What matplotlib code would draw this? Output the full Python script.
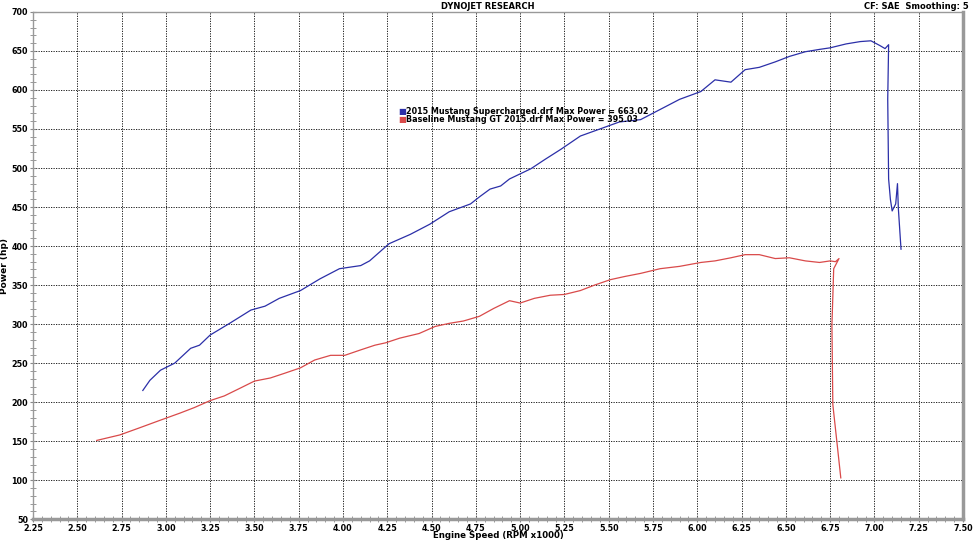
import numpy as np
import matplotlib.pyplot as plt
from matplotlib.ticker import MultipleLocator, FormatStrFormatter

# Supercharged run (blue)
sc_rpm = [2.87, 2.91, 2.97, 3.05, 3.14, 3.19, 3.25, 3.36, 3.48, 3.56, 3.64, 3.76,
          3.87, 3.98, 4.10, 4.15, 4.26, 4.38, 4.49, 4.60, 4.72, 4.77, 4.83, 4.89,
          4.94, 5.06, 5.14, 5.23, 5.34, 5.45, 5.56, 5.68, 5.79, 5.90, 6.02, 6.10,
          6.19, 6.27, 6.35, 6.44, 6.52, 6.61, 6.69, 6.75, 6.84, 6.92, 6.98, 7.03,
          7.06, 7.08, 7.075, 7.08, 7.09, 7.10, 7.12, 7.13, 7.135, 7.15]
sc_hp = [215, 228, 241, 250, 269, 273, 286, 301, 318, 323, 333, 343,
         358, 371, 375, 381, 403, 415, 428, 444, 454, 463, 473, 477,
         486, 499, 511, 524, 541, 550, 559, 562, 575, 588, 598, 613,
         610, 626, 629, 636, 643, 649, 652, 654, 659, 662, 663, 657,
         653, 658, 588, 486, 460, 445, 454, 480, 448, 396]

# Baseline run (red)
base_rpm = [2.61, 2.74, 2.85, 2.97, 3.08, 3.16, 3.25, 3.33, 3.42, 3.50, 3.59, 3.67,
            3.76, 3.84, 3.93, 4.01, 4.10, 4.18, 4.24, 4.32, 4.43, 4.52, 4.60, 4.68,
            4.77, 4.85, 4.94, 5.00, 5.08, 5.17, 5.25, 5.34, 5.42, 5.51, 5.59, 5.68,
            5.79, 5.90, 6.02, 6.10, 6.19, 6.27, 6.35, 6.44, 6.52, 6.61, 6.69, 6.75,
            6.78, 6.80, 6.77, 6.76, 6.765, 6.79, 6.81]
base_hp = [151, 158, 167, 177, 186, 193, 202, 208, 218, 227, 231, 237,
           244, 254, 260, 260, 267, 273, 276, 282, 288, 297, 301, 304,
           310, 320, 330, 327, 333, 337, 338, 343, 350, 357, 361, 365,
           371, 374, 379, 381, 385, 389, 389, 384, 385, 381, 379, 381,
           380, 384, 371, 299, 197, 145, 103]

legend_labels = ['2015 Mustang Supercharged.drf Max Power = 663.02',
                 'Baseline Mustang GT 2015.drf Max Power = 395.03']
legend_colors = ['#2b2fa8', '#d94a4a']

fig = plt.figure(figsize=(9.76, 5.42), dpi=100)
ax = fig.add_axes([0.0338, 0.042, 0.9529, 0.936])

ax.plot(sc_rpm, sc_hp, color=legend_colors[0], linewidth=0.9)
ax.plot(base_rpm, base_hp, color=legend_colors[1], linewidth=0.9)

ax.set_xlim(2.25, 7.50)
ax.set_ylim(50, 700)
ax.xaxis.set_major_locator(MultipleLocator(0.25))
ax.xaxis.set_minor_locator(MultipleLocator(0.05))
ax.yaxis.set_major_locator(MultipleLocator(50))
ax.yaxis.set_minor_locator(MultipleLocator(10))
ax.xaxis.set_major_formatter(FormatStrFormatter('%.2f'))

ax.grid(True, which='major', color='black', linestyle=(0, (1.5, 1.5)), linewidth=0.6)
ax.tick_params(which='both', direction='inout', color='#888888', labelsize=5.8, pad=1)
ax.tick_params(which='major', length=5)
ax.tick_params(which='minor', length=4)
for lbl in ax.get_xticklabels() + ax.get_yticklabels():
    lbl.set_fontweight('bold')

for side in ['left', 'top']:
    ax.spines[side].set_color('#999999')
    ax.spines[side].set_linewidth(1.0)
for side in ['right', 'bottom']:
    ax.spines[side].set_color('#999999')
    ax.spines[side].set_linewidth(2.5)

ax.set_xlabel('Engine Speed (RPM x1000)', fontsize=6.2, fontweight='bold')
ax.set_ylabel('Power (hp)', fontsize=6.5, fontweight='bold')
ax.xaxis.set_label_coords(0.5, -0.024)
ax.yaxis.set_label_coords(-0.026, 0.5)

fig.text(0.5, 0.997, 'DYNOJET RESEARCH', ha='center', va='top', fontsize=6, fontweight='bold')
fig.text(0.993, 0.997, 'CF: SAE  Smoothing: 5', ha='right', va='top', fontsize=6, fontweight='bold')

# legend with small coloured squares
for i, (lab, col) in enumerate(zip(legend_labels, legend_colors)):
    yy = 0.794 - i * 0.0148
    fig.text(0.4085, yy, '■', color=col, fontsize=6, ha='left', va='center')
    fig.text(0.4155, yy, lab, fontsize=5.8, fontweight='bold', ha='left', va='center')

fig.savefig('out.png', dpi=100)
